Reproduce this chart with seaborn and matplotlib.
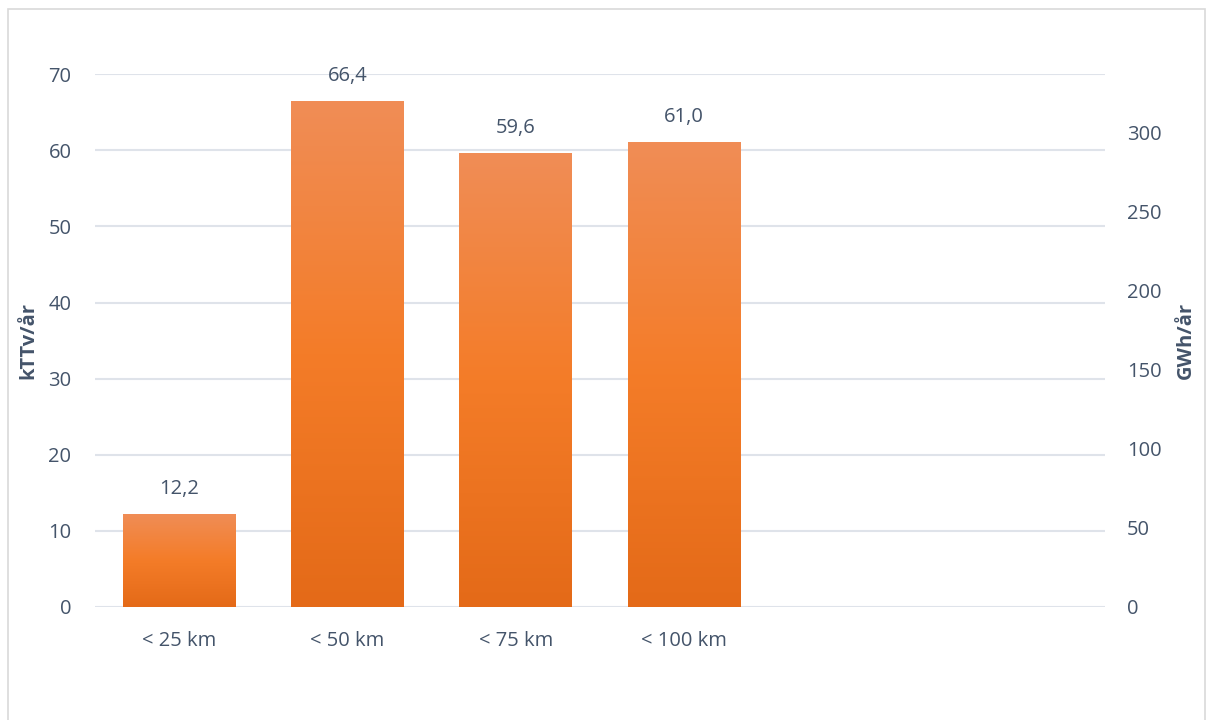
import numpy as np
import pandas as pd
import seaborn as sns
import matplotlib.pyplot as plt
from matplotlib.colors import LinearSegmentedColormap
from matplotlib.patches import Rectangle

categories = ["< 25 km", "< 50 km", "< 75 km", "< 100 km", " ", "  "]
values = [12.2, 66.4, 59.6, 61.0, np.nan, np.nan]
labels = ["12,2", "66,4", "59,6", "61,0"]
left_ticks = [0, 10, 20, 30, 40, 50, 60, 70]
right_ticks = [0, 50, 100, 150, 200, 250, 300]

df = pd.DataFrame({"avstand": categories, "kttv": values})

sns.set_theme(style="white")
plt.rcParams["font.family"] = ["Open Sans", "DejaVu Sans"]
text_col = "#44546A"
grid_col = "#DFE3EA"
fs = 14.5

fig = plt.figure(figsize=(12.12, 7.2), dpi=100)
ax = fig.add_axes([0.0784, 0.157, 0.8333, 0.740])

sns.barplot(data=df, x="avstand", y="kttv", color="#F47C28", width=0.67, ax=ax, zorder=3)

ax.set_yticks(left_ticks)
ax.grid(axis="y", color=grid_col, lw=1.5, zorder=0)
for s in ax.spines.values():
    s.set_visible(False)

# gradient fill over each bar
cmap = LinearSegmentedColormap.from_list("og", ["#E46A18", "#F47C28", "#F08D56"])
grad = np.linspace(0, 1, 256).reshape(-1, 1)
for p in ax.patches:
    h = p.get_height()
    if np.isnan(h) or h == 0:
        continue
    x0 = p.get_x()
    w = p.get_width()
    p.set_facecolor("none")
    p.set_edgecolor("none")
    ax.imshow(grad, cmap=cmap, origin="lower", aspect="auto",
              extent=[x0, x0 + w, 0, h], zorder=3)
ax.set_xlim(-0.5, 5.5)
ax.set_ylim(0, 70)

for i, lab in enumerate(labels):
    ax.text(i, values[i] + 2.0, lab, ha="center", va="bottom", fontsize=fs, color=text_col)

ax.set_xlabel("")
ax.set_ylabel("kTTv/år", fontsize=fs, fontweight="bold", color=text_col, labelpad=7)
ax.tick_params(axis="x", length=0, labelsize=fs, labelcolor=text_col, pad=17)
ax.tick_params(axis="y", length=0, labelsize=fs, labelcolor=text_col, pad=17)

ax2 = ax.twinx()
ax2.set_ylim(0, 70 * 4.81)
ax2.set_yticks(right_ticks)
ax2.tick_params(axis="y", length=0, labelsize=fs, labelcolor=text_col, pad=16)
ax2.set_ylabel("GWh/år", fontsize=fs, fontweight="bold", color=text_col, labelpad=10)
for s in ax2.spines.values():
    s.set_visible(False)

fig.patches.append(Rectangle((0.007, -0.01), 0.987, 0.998, transform=fig.transFigure,
                             fill=False, edgecolor="#D9D9D9", lw=1.2))

fig.savefig("out.png", dpi=100)
